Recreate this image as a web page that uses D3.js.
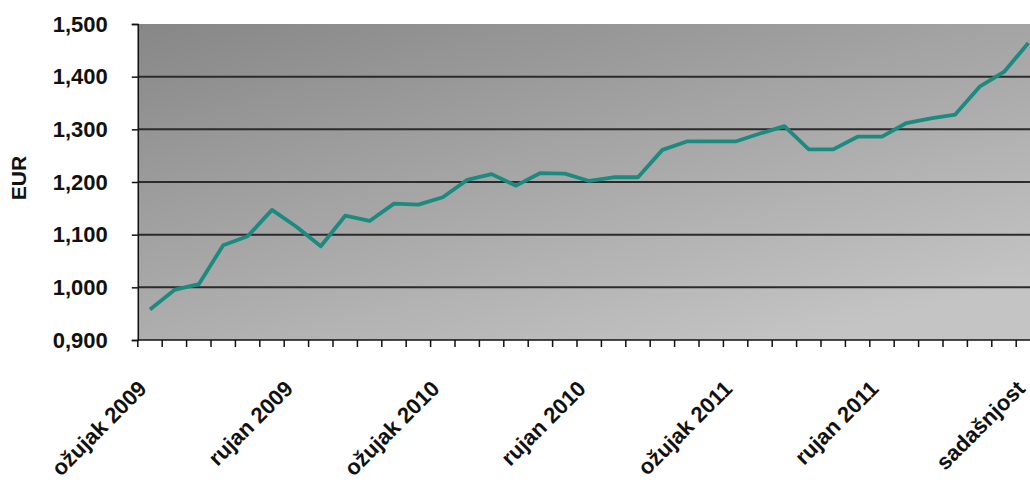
<!DOCTYPE html>
<html lang="hr">
<head>
<meta charset="UTF-8">
<script src="https://cdn.jsdelivr.net/npm/d3@7"></script>
<style>
    body { margin: 0; background: #fff; }
    svg { display: block; font-family: "Liberation Sans", Arial, sans-serif; font-weight: bold; }
</style>
</head>
<body>
<script>
    // ---------- data ----------
    const months = [
        "ožujak 2009", "travanj 2009", "svibanj 2009", "lipanj 2009", "srpanj 2009", "kolovoz 2009",
        "rujan 2009", "listopad 2009", "studeni 2009", "prosinac 2009", "siječanj 2010", "veljača 2010",
        "ožujak 2010", "travanj 2010", "svibanj 2010", "lipanj 2010", "srpanj 2010", "kolovoz 2010",
        "rujan 2010", "listopad 2010", "studeni 2010", "prosinac 2010", "siječanj 2011", "veljača 2011",
        "ožujak 2011", "travanj 2011", "svibanj 2011", "lipanj 2011", "srpanj 2011", "kolovoz 2011",
        "rujan 2011", "listopad 2011", "studeni 2011", "prosinac 2011", "siječanj 2012", "veljača 2012",
        "sadašnjost"
    ];
    const eurValues = [
        0.958, 0.995, 1.006, 1.080, 1.097, 1.147, 1.115, 1.078, 1.136, 1.126,
        1.159, 1.157, 1.171, 1.204, 1.215, 1.193, 1.217, 1.216, 1.202, 1.209,
        1.209, 1.261, 1.277, 1.277, 1.277, 1.292, 1.306, 1.262, 1.262, 1.286,
        1.286, 1.312, 1.321, 1.328, 1.381, 1.409, 1.464
    ];
    const shownLabels = ["ožujak 2009", "rujan 2009", "ožujak 2010", "rujan 2010",
                         "ožujak 2011", "rujan 2011", "sadašnjost"];
    const yTicks = [0.9, 1.0, 1.1, 1.2, 1.3, 1.4, 1.5];
    const yTitle = "EUR";

    // ---------- layout ----------
    const W = 1030, H = 484;
    const plot = { left: 137.8, top: 24, bottom: 340, step: 24.4 };
    plot.right = plot.left + plot.step * months.length;

    const hr = d3.formatLocale({ decimal: ",", thousands: ".", grouping: [3], currency: ["", "€"] });
    const fmt = hr.format(".3f");

    const x = d3.scaleBand().domain(months).range([plot.left, plot.right]).padding(0);
    const y = d3.scaleLinear().domain([0.9, 1.5]).range([plot.bottom, plot.top]);

    const svg = d3.select("body").append("svg")
        .attr("width", W).attr("height", H);

    // background gradient of the plot area
    const grad = svg.append("defs").append("linearGradient")
        .attr("id", "bg").attr("x1", 0).attr("y1", 0).attr("x2", 0.75).attr("y2", 1);
    grad.append("stop").attr("offset", "0%").attr("stop-color", "#878787");
    grad.append("stop").attr("offset", "100%").attr("stop-color", "#c4c4c4");

    svg.append("rect")
        .attr("x", plot.left).attr("y", plot.top)
        .attr("width", plot.right - plot.left).attr("height", plot.bottom - plot.top)
        .attr("fill", "url(#bg)");

    // gridlines
    svg.append("g").selectAll("line")
        .data(yTicks.filter(d => d > 0.9 && d < 1.5))
        .join("line")
        .attr("x1", plot.left).attr("x2", plot.right)
        .attr("y1", d => y(d)).attr("y2", d => y(d))
        .attr("stroke", "#2b2b2b").attr("stroke-width", 2);

    // y axis
    const yAxis = svg.append("g")
        .attr("transform", `translate(${plot.left},0)`)
        .call(d3.axisLeft(y).tickValues(yTicks).tickFormat(fmt).tickSize(6).tickPadding(24));
    yAxis.select(".domain").attr("stroke", "#111").attr("stroke-width", 1.5);
    yAxis.selectAll(".tick line").attr("stroke", "#111").attr("stroke-width", 1.5);
    yAxis.selectAll("text")
        .attr("font-size", 22).attr("font-family", "Liberation Sans, Arial, sans-serif")
        .attr("font-weight", "bold").attr("fill", "#111");

    // x axis: ticks between categories
    const xAxis = svg.append("g")
        .attr("transform", `translate(0,${plot.bottom})`);
    xAxis.append("line")
        .attr("x1", plot.left).attr("x2", plot.right)
        .attr("stroke", "#111").attr("stroke-width", 1.5);
    xAxis.selectAll("line.tk")
        .data(months)
        .join("line").attr("class", "tk")
        .attr("x1", d => x(d)).attr("x2", d => x(d))
        .attr("y1", 0).attr("y2", 7)
        .attr("stroke", "#111").attr("stroke-width", 1.5);
    xAxis.selectAll("text")
        .data(shownLabels)
        .join("text")
        .attr("transform", d => `translate(${x(d) + x.bandwidth() / 2 - 2},50) rotate(-45)`)
        .attr("text-anchor", "end")
        .attr("font-size", 22).attr("fill", "#111")
        .text(d => d);

    // y title
    svg.append("text")
        .attr("transform", `translate(26,178) rotate(-90)`)
        .attr("text-anchor", "middle")
        .attr("font-size", 21).attr("fill", "#111")
        .text(yTitle);

    // line
    const line = d3.line()
        .x((d, i) => x(months[i]) + x.bandwidth() / 2)
        .y(d => y(d));
    svg.append("path")
        .datum(eurValues)
        .attr("d", line)
        .attr("fill", "none")
        .attr("stroke", "#1b8b80")
        .attr("stroke-width", 3.8)
        .attr("stroke-linejoin", "round");
</script>
</body>
</html>
